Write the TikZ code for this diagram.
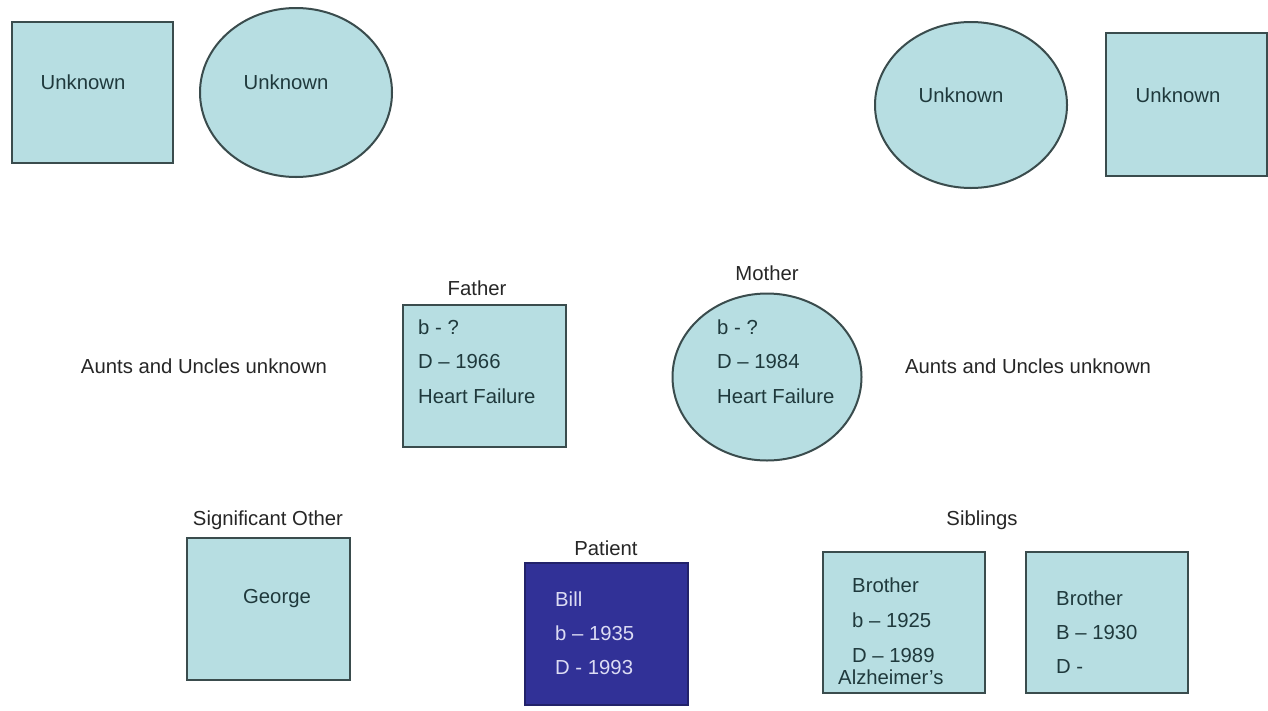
\documentclass[tikz,border=0pt]{standalone}
\usepackage{fontspec}
\setmainfont{Liberation Sans}
\usetikzlibrary{shapes.geometric}
\definecolor{boxfill}{HTML}{B7DEE2}
\definecolor{boxline}{HTML}{3A4C4D}
\definecolor{boxtext}{HTML}{1F393C}
\definecolor{patientfill}{HTML}{313197}
\definecolor{patienttext}{HTML}{DCDCF4}
\definecolor{labeltext}{HTML}{262626}
\tikzset{
  male/.style={draw=boxline, line width=2.4pt, fill=boxfill, rectangle, inner sep=0pt},
  female/.style={draw=boxline, line width=2pt, fill=boxfill, ellipse, inner sep=0pt},
  patientbox/.style={draw=patientfill!70!black, line width=1.5pt, fill=patientfill, rectangle, inner sep=0pt},
  txt/.style={font=\fontsize{20.3}{24}\selectfont, text=boxtext, inner sep=0pt},
  ltxt/.style={txt, anchor=west},
  lbl/.style={font=\fontsize{20.3}{24}\selectfont, text=labeltext, inner sep=0pt},
  ptxt/.style={txt, anchor=west, text=patienttext},
}
\begin{document}
\begin{tikzpicture}[x=1pt, y=-1pt]
\useasboundingbox (0,0) rectangle (1268,710);
\fill[white] (0,0) rectangle (1268,710);

% grandparents, father's side
\node[male, minimum width=161pt, minimum height=141pt] (pgf) at (92.5,92.5) {};
\node[txt] (pgft) at (83,82) {Unknown};
\node[female, minimum width=192pt, minimum height=169pt] (pgm) at (296,92.5) {};
\node[txt] (pgmt) at (286,82) {Unknown};

% grandparents, mother's side
\node[female, minimum width=192pt, minimum height=166pt] (mgm) at (971,105) {};
\node[txt] (mgmt) at (961,95) {Unknown};
\node[male, minimum width=161pt, minimum height=143pt] (mgf) at (1186.5,104.5) {};
\node[txt] (mgft) at (1178,95) {Unknown};

% parents
\node[lbl] (fatherlbl) at (477,288) {Father};
\node[male, minimum width=163pt, minimum height=142pt] (father) at (484.5,376) {};
\node[ltxt] (f1) at (418,327) {b - ?};
\node[ltxt] (f2) at (418,362) {D -- 1966};
\node[ltxt] (f3) at (418,396) {Heart Failure};

\node[lbl] (motherlbl) at (767,273) {Mother};
\node[female, minimum width=189pt, minimum height=167pt] (mother) at (767,377) {};
\node[ltxt] (m1) at (717,327) {b - ?};
\node[ltxt] (m2) at (717,362) {D -- 1984};
\node[ltxt] (m3) at (717,396) {Heart Failure};

\node[lbl] (auntsl) at (204,366) {Aunts and Uncles unknown};
\node[lbl] (auntsr) at (1028,366) {Aunts and Uncles unknown};

% patient's generation
\node[lbl] (solbl) at (268,520) {Significant Other};
\node[male, minimum width=163pt, minimum height=142pt] (so) at (268.5,609) {};
\node[txt] (sot) at (277,599) {George};

\node[lbl] (patientlbl) at (606,548) {Patient};
\node[patientbox, minimum width=163pt, minimum height=142pt] (patient) at (606.5,634) {};
\node[ptxt] (p1) at (555,599) {Bill};
\node[ptxt] (p2) at (555,633) {b -- 1935};
\node[ptxt] (p3) at (555,667) {D - 1993};

\node[lbl] (sibslbl) at (982,520) {Siblings};
\node[male, minimum width=162pt, minimum height=141pt] (bro1) at (904,622.5) {};
\node[ltxt] (b11) at (852,585) {Brother};
\node[ltxt] (b12) at (852,620) {b -- 1925};
\node[ltxt] (b13) at (852,655) {D -- 1989};
\node[ltxt] (b14) at (838,677) {Alzheimer's};
\node[male, minimum width=162pt, minimum height=141pt] (bro2) at (1107,622.5) {};
\node[ltxt] (b21) at (1056,598) {Brother};
\node[ltxt] (b22) at (1056,632) {B -- 1930};
\node[ltxt] (b23) at (1056,667) {D -};
\end{tikzpicture}
\end{document}
